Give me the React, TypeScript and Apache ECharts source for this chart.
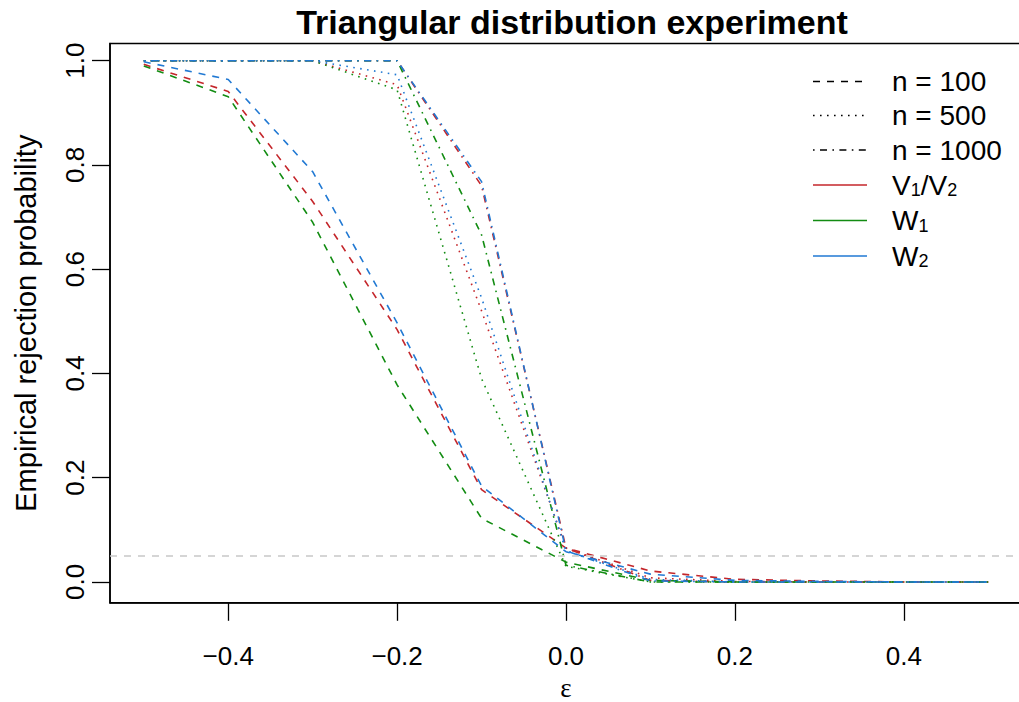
import React, { useEffect, useRef } from "react";
import * as echarts from "echarts";

// ---- data ----
const eps = [-0.5, -0.4, -0.3, -0.2, -0.1, 0, 0.1, 0.2, 0.3, 0.4, 0.5];

const v_n100 = [0.993, 0.941, 0.73, 0.484, 0.177, 0.065, 0.021, 0.005, 0.002, 0, 0];
const w1_n100 = [0.99, 0.931, 0.69, 0.378, 0.122, 0.038, 0.003, 0, 0, 0, 0];
const w2_n100 = [0.998, 0.964, 0.787, 0.497, 0.184, 0.058, 0.015, 0.003, 0.001, 0, 0];

const v_n500 = [1, 1, 1, 0.954, 0.52, 0.065, 0.008, 0.001, 0, 0, 0];
const w1_n500 = [1, 1, 1, 0.944, 0.39, 0.03, 0, 0, 0, 0, 0];
const w2_n500 = [1, 1, 1, 0.973, 0.545, 0.06, 0.005, 0, 0, 0, 0];

const v_n1000 = [1, 1, 1, 1, 0.76, 0.065, 0.003, 0, 0, 0, 0];
const w1_n1000 = [1, 1, 1, 1, 0.666, 0.032, 0, 0, 0, 0, 0];
const w2_n1000 = [1, 1, 1, 1, 0.768, 0.06, 0.002, 0, 0, 0, 0];

const xTicks = [-0.4, -0.2, 0, 0.2, 0.4];
const yTicks = [0, 0.2, 0.4, 0.6, 0.8, 1.0];
const refLevel = 0.05;

const sizeLabels = ["n = 100", "n = 500", "n = 1000"];
const methodLabels = ["{m|V}{s|1}{m|/V}{s|2}", "{m|W}{s|1}", "{m|W}{s|2}"];

const titleText = "Triangular distribution experiment";
const xName = "ε";
const yName = "Empirical rejection probability";

// ---- styles ----
const RED = "#C4262B";
const GREEN = "#128C12";
const BLUE = "#2179D3";
const DASH = [7, 7];
const DOT = [1.6, 5.4];
const DOTDASH = [1.6, 5.4, 7, 5.4];
const FONT = "'Liberation Sans', Arial, Helvetica, sans-serif";

const fmt = (v: number) => (v < 0 ? "\u2212" + Math.abs(v).toFixed(1) : v.toFixed(1));

export default function App() {
  const ref = useRef<HTMLDivElement>(null);

  useEffect(() => {
    if (!ref.current) return;
    const chart = echarts.init(ref.current, undefined, { renderer: "svg" });

    const methods = [
      { color: RED, sets: [v_n100, v_n500, v_n1000] },
      { color: GREEN, sets: [w1_n100, w1_n500, w1_n1000] },
      { color: BLUE, sets: [w2_n100, w2_n500, w2_n1000] },
    ];
    const dashes = [DASH, DOT, DOTDASH];

    const series: any[] = [];
    methods.forEach((m, mi) => {
      m.sets.forEach((vals, si) => {
        series.push({
          type: "line",
          name: `${mi}-${si}`,
          data: eps.map((x, i) => [x, vals[i]]),
          showSymbol: false,
          symbol: "none",
          silent: true,
          lineStyle: { color: m.color, width: 1.6, type: dashes[si], cap: "butt" },
          emphasis: { disabled: true },
        });
      });
    });
    series.unshift({
      type: "line",
      name: "ref",
      data: [],
      silent: true,
      markLine: {
        silent: true,
        symbol: "none",
        label: { show: false },
        lineStyle: { color: "#C8C8C8", width: 1.6, type: DASH },
        data: [{ yAxis: refLevel }],
      },
    });

    const rowsY = [81.5, 115.5, 150, 185, 220.5, 256];
    const legendEls: any[] = [];
    sizeLabels.forEach((t, i) => {
      legendEls.push({
        type: "line",
        shape: { x1: 813, y1: rowsY[i], x2: 867, y2: rowsY[i] },
        style: { stroke: "#000", lineWidth: 1.4, lineDash: dashes[i] },
      });
      legendEls.push({
        type: "text",
        x: 892,
        y: rowsY[i],
        style: {
          text: t,
          font: `28px ${FONT}`,
          fill: "#000",
          textVerticalAlign: "middle",
          textAlign: "left",
        },
      });
    });
    const mColors = [RED, GREEN, BLUE];
    methodLabels.forEach((t, i) => {
      const y = rowsY[3 + i];
      legendEls.push({
        type: "line",
        shape: { x1: 813, y1: y, x2: 867, y2: y },
        style: { stroke: mColors[i], lineWidth: 1.6 },
      });
      legendEls.push({
        type: "text",
        x: 892,
        y: y - 14,
        style: {
          text: t,
          fill: "#000",
          textVerticalAlign: "top",
          textAlign: "left",
          rich: {
            m: { fontSize: 28, fontFamily: FONT, lineHeight: 28, verticalAlign: "bottom", fill: "#000" },
            s: { fontSize: 18, fontFamily: FONT, lineHeight: 8, verticalAlign: "bottom", fill: "#000" },
          },
        },
      });
    });

    chart.setOption({
      animation: false,
      backgroundColor: "#fff",
      title: {
        text: titleText,
        left: 567,
        top: 0,
        textAlign: "center",
        textStyle: { fontSize: 34, fontWeight: "bold", fontFamily: FONT, color: "#000" },
      },
      grid: {
        left: 110,
        top: 43.5,
        width: 912,
        height: 559.3,
        containLabel: false,
        outerBoundsMode: "none",
        show: true,
        borderColor: "#000",
        borderWidth: 1.5,
        backgroundColor: "transparent",
      },
      xAxis: {
        type: "value",
        min: -0.54,
        max: 0.54,
        name: xName,
        nameLocation: "middle",
        nameGap: 72,
        nameTextStyle: { fontFamily: "'Liberation Serif', 'DejaVu Serif', serif", fontSize: 27, color: "#000" },
        axisLine: { show: true, onZero: false, lineStyle: { color: "#000", width: 1.5 } },
        axisTick: { show: true, length: 18, customValues: xTicks, lineStyle: { color: "#000", width: 1.3 } },
        axisLabel: {
          customValues: xTicks,
          formatter: fmt,
          fontSize: 26,
          fontFamily: FONT,
          color: "#000",
          margin: 40,
        },
        splitLine: { show: false },
      },
      yAxis: {
        type: "value",
        min: -0.04,
        max: 1.033,
        name: yName,
        nameLocation: "middle",
        nameGap: 70,
        nameTextStyle: { fontFamily: FONT, fontSize: 29, color: "#000" },
        axisLine: { show: true, onZero: false, lineStyle: { color: "#000", width: 1.5 } },
        axisTick: { show: true, length: 18, customValues: yTicks, lineStyle: { color: "#000", width: 1.3 } },
        axisLabel: {
          customValues: yTicks,
          formatter: (v: number) => v.toFixed(1),
          rotate: 90,
          fontSize: 26,
          fontFamily: FONT,
          color: "#000",
          margin: 22,
        },
        splitLine: { show: false },
      },
      graphic: legendEls,
      series,
    });

    return () => chart.dispose();
  }, []);

  return (
    <div
      ref={ref}
      style={{ position: "absolute", left: 0, top: 0, width: 1019, height: 702, background: "#fff" }}
    />
  );
}
